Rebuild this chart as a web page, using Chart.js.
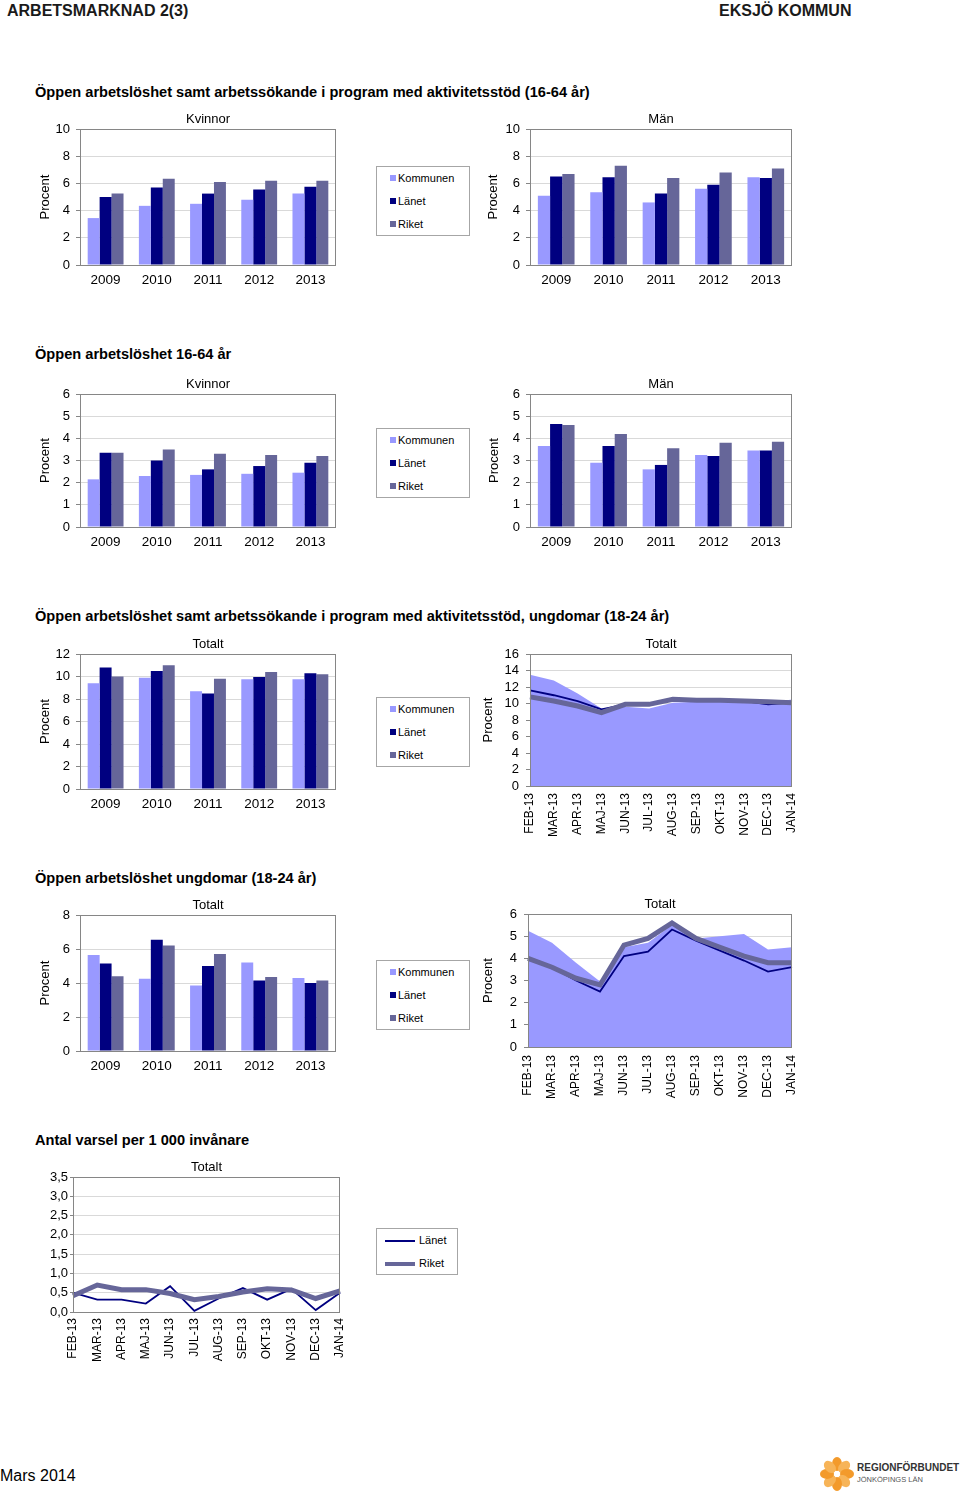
<!DOCTYPE html>
<html lang="sv">
<head>
<meta charset="utf-8">
<script src="https://cdn.jsdelivr.net/npm/chart.js@4.4.1/dist/chart.umd.min.js"></script>
<style>
body { margin: 0; background: #fff; font-family: "Liberation Sans", Arial, sans-serif; color: #000; }
#page { position: relative; width: 960px; height: 1492px; overflow: hidden; }
.abs { position: absolute; white-space: nowrap; line-height: 20px; }
.h1 { font-weight: bold; font-size: 16px; color: #1a1a1a; }
.h2 { font-weight: bold; font-size: 14.6px; }
canvas { position: absolute; }
.legend { position: absolute; border: 1px solid #a6a6a6; background: #fff; font-size: 11px; }
.legend .row { position: absolute; left: 13px; line-height: 14px; white-space: nowrap; }
.legend .sq { display: inline-block; width: 6px; height: 6px; margin-right: 2px; vertical-align: 1px; }
.legend .ln { display: inline-block; width: 30px; margin-right: 4px; vertical-align: middle; }
</style>
</head>
<body>
<div id="page">
  <div class="abs h1" style="left:7px;top:1px">ARBETSMARKNAD 2(3)</div>
  <div class="abs h1" style="left:719px;top:1px">EKSJÖ KOMMUN</div>

  <div class="abs h2" style="left:35px;top:82px">Öppen arbetslöshet samt arbetssökande i program med aktivitetsstöd (16-64 år)</div>
  <div class="abs h2" style="left:35px;top:344px">Öppen arbetslöshet 16-64 år</div>
  <div class="abs h2" style="left:35px;top:606px">Öppen arbetslöshet samt arbetssökande i program med aktivitetsstöd, ungdomar (18-24 år)</div>
  <div class="abs h2" style="left:35px;top:868px">Öppen arbetslöshet ungdomar (18-24 år)</div>
  <div class="abs h2" style="left:35px;top:1130px">Antal varsel per 1 000 invånare</div>

  <canvas id="c1"></canvas>
  <canvas id="c2"></canvas>
  <canvas id="c3"></canvas>
  <canvas id="c4"></canvas>
  <canvas id="c5"></canvas>
  <canvas id="c6"></canvas>
  <canvas id="c7"></canvas>
  <canvas id="c8"></canvas>
  <canvas id="c9"></canvas>

  <div class="legend" style="left:376px;top:166px;width:92px;height:68px">
    <div class="row" style="top:4px"><span class="sq" style="background:#9999ff"></span>Kommunen</div>
    <div class="row" style="top:27px"><span class="sq" style="background:#000080"></span>Länet</div>
    <div class="row" style="top:50px"><span class="sq" style="background:#666699"></span>Riket</div>
  </div>
  <div class="legend" style="left:376px;top:428px;width:92px;height:68px">
    <div class="row" style="top:4px"><span class="sq" style="background:#9999ff"></span>Kommunen</div>
    <div class="row" style="top:27px"><span class="sq" style="background:#000080"></span>Länet</div>
    <div class="row" style="top:50px"><span class="sq" style="background:#666699"></span>Riket</div>
  </div>
  <div class="legend" style="left:376px;top:697px;width:92px;height:68px">
    <div class="row" style="top:4px"><span class="sq" style="background:#9999ff"></span>Kommunen</div>
    <div class="row" style="top:27px"><span class="sq" style="background:#000080"></span>Länet</div>
    <div class="row" style="top:50px"><span class="sq" style="background:#666699"></span>Riket</div>
  </div>
  <div class="legend" style="left:376px;top:960px;width:92px;height:68px">
    <div class="row" style="top:4px"><span class="sq" style="background:#9999ff"></span>Kommunen</div>
    <div class="row" style="top:27px"><span class="sq" style="background:#000080"></span>Länet</div>
    <div class="row" style="top:50px"><span class="sq" style="background:#666699"></span>Riket</div>
  </div>
  <div class="legend" style="left:376px;top:1228px;width:80px;height:45px">
    <div class="row" style="top:4px;left:8px"><span class="ln" style="border-top:2px solid #000080"></span>Länet</div>
    <div class="row" style="top:27px;left:8px"><span class="ln" style="border-top:4px solid #666699"></span>Riket</div>
  </div>

  <div class="abs" style="left:0px;top:1466px;font-size:16px">Mars 2014</div>

  <svg class="abs" style="left:818px;top:1456px" width="38" height="36" viewBox="0 0 38 36">
    <g transform="translate(19,18)">
      <ellipse cx="0" cy="-10" rx="5" ry="7" fill="#f39a2b" transform="rotate(0)"/>
      <ellipse cx="0" cy="-10" rx="5" ry="7" fill="#f7b458" transform="rotate(45)"/>
      <ellipse cx="0" cy="-10" rx="5" ry="7" fill="#f39a2b" transform="rotate(90)"/>
      <ellipse cx="0" cy="-10" rx="5" ry="7" fill="#f7b458" transform="rotate(135)"/>
      <ellipse cx="0" cy="-10" rx="5" ry="7" fill="#f39a2b" transform="rotate(180)"/>
      <ellipse cx="0" cy="-10" rx="5" ry="7" fill="#f7b458" transform="rotate(225)"/>
      <ellipse cx="0" cy="-10" rx="5" ry="7" fill="#f39a2b" transform="rotate(270)"/>
      <ellipse cx="0" cy="-10" rx="5" ry="7" fill="#f7b458" transform="rotate(315)"/>
      <circle cx="0" cy="0" r="3" fill="#fff"/>
    </g>
  </svg>
  <div class="abs" style="left:857px;top:1461px;font-size:10px;font-weight:bold;color:#333;line-height:14px">REGIONFÖRBUNDET</div>
  <div class="abs" style="left:857px;top:1475px;font-size:7.5px;color:#555;line-height:10px">JÖNKÖPINGS LÄN</div>
</div>

<script>
// kategorier
const years = ['2009', '2010', '2011', '2012', '2013'];
const months = ['FEB-13', 'MAR-13', 'APR-13', 'MAJ-13', 'JUN-13', 'JUL-13', 'AUG-13', 'SEP-13', 'OKT-13', 'NOV-13', 'DEC-13', 'JAN-14'];

// öppen arbetslöshet + program 16-64, kvinnor / män
const aktKvinnorKommun = [3.45, 4.35, 4.5, 4.8, 5.25];
const aktKvinnorLan    = [5.0, 5.7, 5.25, 5.55, 5.75];
const aktKvinnorRiket  = [5.25, 6.35, 6.1, 6.2, 6.2];
const aktManKommun = [5.1, 5.35, 4.6, 5.6, 6.45];
const aktManLan    = [6.5, 6.45, 5.25, 5.9, 6.4];
const aktManRiket  = [6.7, 7.3, 6.4, 6.8, 7.1];

// öppen arbetslöshet 16-64
const oppKvinnorKommun = [2.15, 2.3, 2.35, 2.4, 2.45];
const oppKvinnorLan    = [3.35, 3.0, 2.6, 2.75, 2.9];
const oppKvinnorRiket  = [3.35, 3.5, 3.3, 3.25, 3.2];
const oppManKommun = [3.65, 2.9, 2.6, 3.25, 3.45];
const oppManLan    = [4.65, 3.65, 2.8, 3.2, 3.45];
const oppManRiket  = [4.6, 4.2, 3.55, 3.8, 3.85];

// ungdomar 18-24, arbetslöshet + program
const ungAktKommun = [9.4, 9.9, 8.7, 9.75, 9.75];
const ungAktLan    = [10.8, 10.5, 8.5, 9.95, 10.3];
const ungAktRiket  = [10.0, 11.0, 9.8, 10.4, 10.2];
const ungAktManKommun = [13.5, 12.8, 11.2, 9.4, 9.6, 9.4, 10.1, 10.2, 10.3, 10.2, 10.1, 10.5];
const ungAktManLan    = [11.6, 11.0, 10.3, 9.3, 9.9, 9.8, 10.5, 10.4, 10.4, 10.3, 9.9, 10.1];
const ungAktManRiket  = [10.8, 10.3, 9.7, 8.9, 9.9, 9.9, 10.5, 10.4, 10.4, 10.3, 10.2, 10.1];

// ungdomar 18-24, öppen arbetslöshet
const ungOppKommun = [5.65, 4.25, 3.85, 5.2, 4.3];
const ungOppLan    = [5.15, 6.55, 5.0, 4.15, 4.0];
const ungOppRiket  = [4.4, 6.2, 5.7, 4.35, 4.15];
const ungOppManKommun = [5.25, 4.7, 3.8, 2.95, 4.5, 4.7, 5.5, 4.9, 5.0, 5.1, 4.4, 4.5];
const ungOppManLan    = [4.0, 3.6, 3.0, 2.5, 4.1, 4.3, 5.3, 4.8, 4.35, 3.9, 3.4, 3.6];
const ungOppManRiket  = [4.0, 3.6, 3.1, 2.8, 4.6, 4.9, 5.6, 4.9, 4.5, 4.1, 3.8, 3.8];

// varsel per 1 000 invånare
const varselLan   = [0.5, 0.32, 0.32, 0.22, 0.67, 0.03, 0.35, 0.62, 0.32, 0.6, 0.05, 0.5];
const varselRiket = [0.42, 0.7, 0.58, 0.58, 0.48, 0.32, 0.4, 0.52, 0.6, 0.57, 0.35, 0.55];

const KOM = '#9999ff', LAN = '#000080', RIK = '#666699';

Chart.defaults.font.family = '"Liberation Sans", Arial, sans-serif';
Chart.defaults.color = '#000';

// ram runt diagramytan
const frame = {
  id: 'frame',
  afterDraw(chart) {
    const a = chart.chartArea, ctx = chart.ctx;
    ctx.save();
    ctx.strokeStyle = '#868686';
    ctx.lineWidth = 1;
    ctx.strokeRect(Math.round(a.left) + 0.5, Math.round(a.top) + 0.5,
      Math.round(a.right - a.left) - 1, Math.round(a.bottom - a.top));
    ctx.restore();
  }
};

function place(id, area, xH, yW, rp) {
  const c = document.getElementById(id);
  const left = area.l - yW, top = area.t - 20;
  const w = area.r - area.l + yW + rp, h = area.b - area.t + 20 + xH;
  c.width = w; c.height = h;
  c.style.left = left + 'px'; c.style.top = top + 'px';
  c.style.width = w + 'px'; c.style.height = h + 'px';
  return { c: c, left: left };
}

function yAxis(max, step, yW, titleX, left, opts) {
  const ax = {
    min: 0, max: max,
    ticks: { stepSize: step, autoSkip: false, font: { size: 13 }, padding: opts.pad, color: '#000' },
    grid: { color: '#d9d9d9', tickLength: opts.tl, tickColor: '#868686' },
    border: { display: false },
    afterFit(s) { s.width = yW; }
  };
  if (titleX) {
    ax.title = { display: true, text: 'Procent', font: { size: 13 }, color: '#000',
      padding: { top: titleX - left - 7.8, bottom: 0 } };
  }
  if (opts.cb) ax.ticks.callback = opts.cb;
  return ax;
}

function titleOpt(text) {
  return { display: true, text: text, fullSize: false, color: '#000',
    font: { size: 13, weight: 'normal' }, padding: { top: 3, bottom: 1.4 } };
}

function barChart(id, area, title, yMax, yStep, kom, lan, rik, titleX) {
  const yW = 50, rp = 10;
  const p = place(id, area, 30, yW, rp);
  return new Chart(p.c, {
    type: 'bar',
    data: {
      labels: years,
      datasets: [
        { label: 'Kommunen', data: kom, backgroundColor: KOM },
        { label: 'Länet', data: lan, backgroundColor: LAN },
        { label: 'Riket', data: rik, backgroundColor: RIK }
      ]
    },
    options: {
      responsive: false, animation: false,
      layout: { padding: { left: 0, right: rp, top: 0, bottom: 0 } },
      datasets: { bar: { categoryPercentage: 0.7, barPercentage: 1, borderWidth: 0 } },
      plugins: { legend: { display: false }, tooltip: { enabled: false }, title: titleOpt(title) },
      scales: {
        x: {
          grid: { display: false, drawTicks: false }, border: { display: false },
          ticks: { font: { size: 13.5 }, padding: 7, color: '#000' },
          afterFit(s) { s.height = 30; }
        },
        y: yAxis(yMax, yStep, yW, titleX, p.left, { tl: 4, pad: 6 })
      }
    },
    plugins: [frame]
  });
}

function lineChart(id, area, yMax, yStep, sets, titleX, yW, yopts, xpad) {
  const rp = 30;
  const p = place(id, area, 62, yW, rp);
  return new Chart(p.c, {
    type: 'line',
    data: { labels: months, datasets: sets },
    options: {
      responsive: false, animation: false,
      layout: { padding: { left: 0, right: rp, top: 0, bottom: 0 } },
      elements: { point: { radius: 0 }, line: { tension: 0 } },
      plugins: { legend: { display: false }, tooltip: { enabled: false }, title: titleOpt('Totalt') },
      scales: {
        x: {
          offset: false,
          grid: { display: false, drawTicks: false }, border: { display: false },
          ticks: { font: { size: 12 }, padding: xpad, color: '#000', minRotation: 90, maxRotation: 90, autoSkip: false },
          afterFit(s) { s.height = 62; }
        },
        y: yAxis(yMax, yStep, yW, titleX, p.left, yopts)
      }
    },
    plugins: [frame]
  });
}

function areaSets(kom, lan, rik) {
  return [
    { label: 'Kommunen', data: kom, fill: 'origin', backgroundColor: KOM, borderColor: KOM, borderWidth: 0, order: 2 },
    { label: 'Länet', data: lan, fill: false, borderColor: LAN, borderWidth: 1.8, order: 1 },
    { label: 'Riket', data: rik, fill: false, borderColor: RIK, borderWidth: 5, order: 0 }
  ];
}

barChart('c1', { l: 80, t: 129, r: 336, b: 265 }, 'Kvinnor', 10, 2, aktKvinnorKommun, aktKvinnorLan, aktKvinnorRiket, 45);
barChart('c2', { l: 530, t: 129, r: 792, b: 265 }, 'Män', 10, 2, aktManKommun, aktManLan, aktManRiket, 493);
barChart('c3', { l: 80, t: 394, r: 336, b: 527 }, 'Kvinnor', 6, 1, oppKvinnorKommun, oppKvinnorLan, oppKvinnorRiket, 45);
barChart('c4', { l: 530, t: 394, r: 792, b: 527 }, 'Män', 6, 1, oppManKommun, oppManLan, oppManRiket, 494);
barChart('c5', { l: 80, t: 654, r: 336, b: 789 }, 'Totalt', 12, 2, ungAktKommun, ungAktLan, ungAktRiket, 45);
lineChart('c6', { l: 530, t: 654, r: 792, b: 786 }, 16, 2,
  areaSets(ungAktManKommun, ungAktManLan, ungAktManRiket), 488, 50, { tl: 4, pad: 7 }, 7);
barChart('c7', { l: 80, t: 915, r: 336, b: 1051 }, 'Totalt', 8, 2, ungOppKommun, ungOppLan, ungOppRiket, 45);
lineChart('c8', { l: 528, t: 914, r: 792, b: 1047 }, 6, 1,
  areaSets(ungOppManKommun, ungOppManLan, ungOppManRiket), 488, 48, { tl: 4, pad: 7 }, 8);
lineChart('c9', { l: 73, t: 1177, r: 340, b: 1312 }, 3.5, 0.5, [
  { label: 'Länet', data: varselLan, fill: false, borderColor: LAN, borderWidth: 1.8, order: 1 },
  { label: 'Riket', data: varselRiket, fill: false, borderColor: RIK, borderWidth: 5, order: 0 }
], null, 45, { tl: 3, pad: 2, cb: v => v.toFixed(1).replace('.', ',') }, 6);
</script>
</body>
</html>
